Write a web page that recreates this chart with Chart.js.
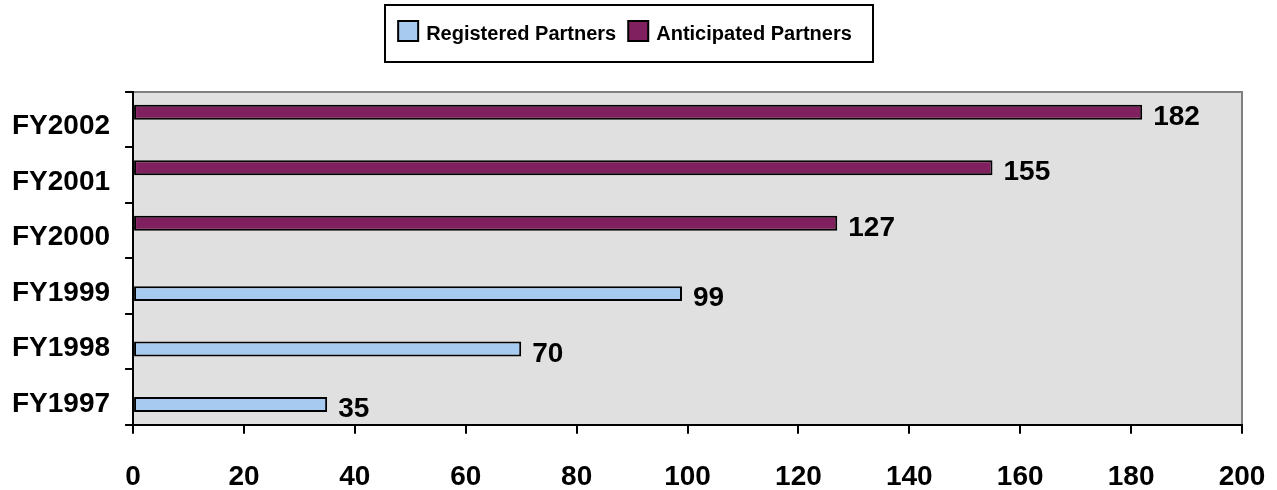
<!DOCTYPE html>
<html lang="en">
<head>
    <meta charset="UTF-8">
    <title>Registered and Anticipated Partners</title>
    <script src="https://cdn.jsdelivr.net/npm/chart.js@4.4.0/dist/chart.umd.min.js"></script>
    <style>
        html, body { margin: 0; padding: 0; background: #ffffff; }
        .wrap { width: 1277px; height: 490px; position: relative; }
    </style>
</head>
<body>
    <div class="wrap">
        <canvas id="partnersChart" width="1277" height="490"></canvas>
    </div>

    <script>
        const years = ['FY2002', 'FY2001', 'FY2000', 'FY1999', 'FY1998', 'FY1997'];
        const registered = [null, null, null, 99, 70, 35];
        const anticipated = [182, 155, 127, null, null, null];
        const xTicks = [0, 20, 40, 60, 80, 100, 120, 140, 160, 180, 200];

        const FONT = "'Liberation Sans', Arial, sans-serif";

        // grey plot area with a thin grey frame on top and right
        const plotBg = {
            id: 'plotBg',
            beforeDraw(chart) {
                const { ctx, chartArea: a } = chart;
                ctx.save();
                ctx.fillStyle = '#e0e0e0';
                ctx.fillRect(a.left, a.top, a.right - a.left, a.bottom - a.top);
                ctx.strokeStyle = '#808080';
                ctx.lineWidth = 2;
                ctx.beginPath();
                ctx.moveTo(a.left, a.top);
                ctx.lineTo(a.right, a.top);
                ctx.lineTo(a.right, a.bottom);
                ctx.stroke();
                ctx.restore();
            }
        };

        // boxed legend at the top, Registered first
        const boxLegend = {
            id: 'boxLegend',
            afterDraw(chart) {
                const ctx = chart.ctx;
                const items = chart.data.datasets.slice().reverse();
                ctx.save();
                ctx.font = 'bold 20px ' + FONT;
                const sq = 20, gapText = 8, gapItem = 12;
                let total = 0;
                items.forEach((ds, i) => {
                    total += sq + gapText + ctx.measureText(ds.label).width;
                    if (i < items.length - 1) total += gapItem;
                });
                let x = 625 - total / 2;
                const cy = 31;
                ctx.strokeStyle = '#000';
                ctx.lineWidth = 2;
                ctx.strokeRect(385, 5, 488, 57);
                ctx.textBaseline = 'middle';
                ctx.textAlign = 'left';
                items.forEach(ds => {
                    ctx.fillStyle = ds.backgroundColor;
                    ctx.fillRect(x, cy - sq / 2, sq, sq);
                    ctx.strokeStyle = '#000';
                    ctx.lineWidth = 2;
                    ctx.strokeRect(x, cy - sq / 2, sq, sq);
                    x += sq + gapText;
                    ctx.fillStyle = '#000';
                    ctx.fillText(ds.label, x, cy + 3);
                    x += ctx.measureText(ds.label).width + gapItem;
                });
                ctx.restore();
            }
        };

        // value next to each bar end
        const barValues = {
            id: 'barValues',
            afterDatasetsDraw(chart) {
                const ctx = chart.ctx;
                ctx.save();
                ctx.font = 'bold 28px ' + FONT;
                ctx.fillStyle = '#000';
                ctx.textAlign = 'left';
                ctx.textBaseline = 'middle';
                chart.data.datasets.forEach((ds, i) => {
                    chart.getDatasetMeta(i).data.forEach((bar, j) => {
                        const v = ds.data[j];
                        if (v == null) return;
                        ctx.fillText(String(v), bar.x + 11, bar.y + 5);
                    });
                });
                ctx.restore();
            }
        };

        // the layout is set by the padding below, not by label overhang,
        // and tick padding counts once only
        function tightAxis(axis) {
            axis.paddingLeft = 0;
            axis.paddingRight = 0;
            axis.paddingTop = 0;
            axis.paddingBottom = 0;
            if (axis.isHorizontal()) axis.height -= axis.options.ticks.padding;
            else axis.width -= axis.options.ticks.padding;
        }

        new Chart(document.getElementById('partnersChart'), {
            type: 'bar',
            data: {
                labels: years,
                datasets: [
                    {
                        label: 'Anticipated Partners',
                        data: anticipated,
                        backgroundColor: '#80205e',
                        borderColor: '#000',
                        borderWidth: 2,
                        borderSkipped: false
                    },
                    {
                        label: 'Registered Partners',
                        data: registered,
                        backgroundColor: '#a6caf0',
                        borderColor: '#000',
                        borderWidth: 2,
                        borderSkipped: false
                    }
                ]
            },
            options: {
                indexAxis: 'y',
                responsive: false,
                animation: false,
                categoryPercentage: 0.54,
                barPercentage: 1,
                layout: { padding: { top: 92, right: 35, bottom: 0, left: 12 } },
                plugins: {
                    legend: { display: false },
                    tooltip: { enabled: false }
                },
                scales: {
                    x: {
                        min: 0,
                        max: 200,
                        afterBuildTicks(axis) { axis.ticks = xTicks.map(v => ({ value: v })); },
                        afterFit: tightAxis,
                        grid: {
                            drawOnChartArea: false,
                            drawTicks: true,
                            tickLength: 9,
                            color: '#000',
                            lineWidth: 2
                        },
                        border: { display: true, color: '#000', width: 2 },
                        ticks: {
                            color: '#000',
                            font: { family: FONT, size: 28, weight: 'bold', lineHeight: 0.9 },
                            padding: 31,
                            maxRotation: 0
                        }
                    },
                    y: {
                        afterFit: tightAxis,
                        grid: {
                            offset: true,
                            drawOnChartArea: false,
                            drawTicks: true,
                            tickLength: 8,
                            color: '#000',
                            lineWidth: 2
                        },
                        border: { display: true, color: '#000', width: 2 },
                        ticks: {
                            color: '#000',
                            font: { family: FONT, size: 28, weight: 'bold' },
                            padding: 15,
                            labelOffset: 7
                        }
                    }
                }
            },
            plugins: [plotBg, boxLegend, barValues]
        });
    </script>
</body>
</html>
